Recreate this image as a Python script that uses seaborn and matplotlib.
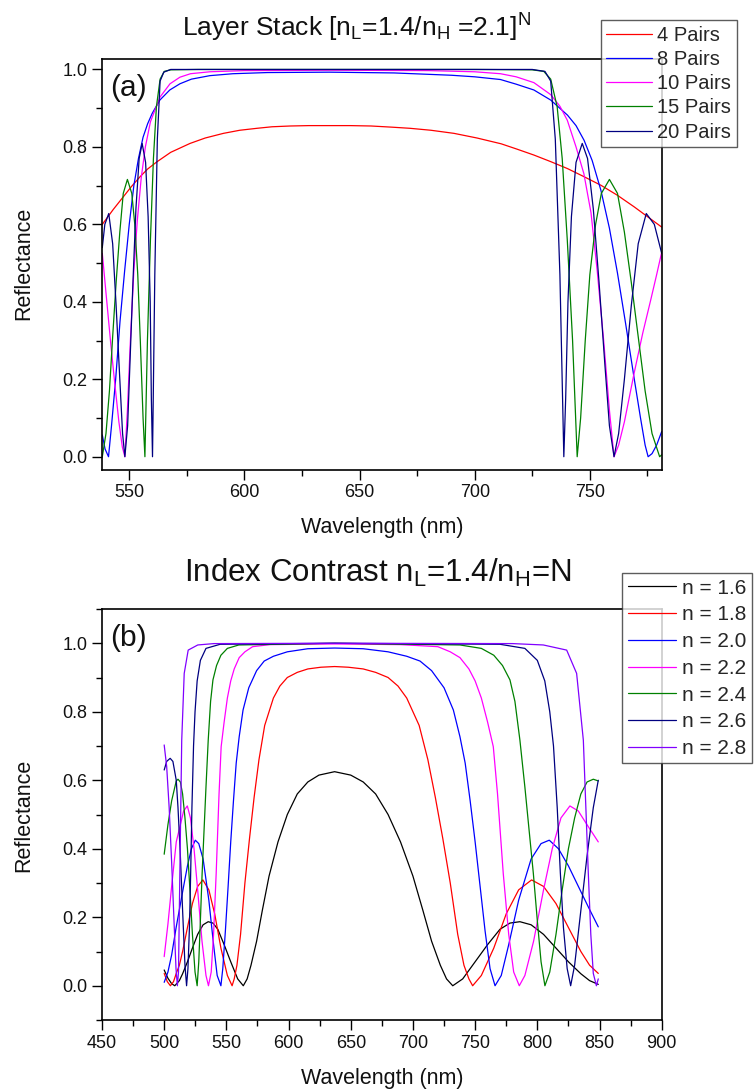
import matplotlib
matplotlib.use("Agg")
import matplotlib.pyplot as plt
import seaborn as sns
from matplotlib import font_manager as fm
from matplotlib.ticker import MultipleLocator, FormatStrFormatter

# ---------------- data : panel (a) layer stack ----------------
wl_a4 = [538.3, 543, 547.4, 551, 554.7, 558, 561.9, 568, 576.4, 583, 590.9, 598, 605.4, 612, 619.9, 628, 637, 646, 655, 664, 672, 681, 691, 701, 711.5, 718, 725.7, 733, 740.3, 747.5, 754.8, 762, 769.3, 775, 781.2]
r_a4 = [0.600, 0.638, 0.671, 0.698, 0.723, 0.743, 0.761, 0.786, 0.809, 0.823, 0.835, 0.843, 0.848, 0.852, 0.854, 0.855, 0.855, 0.855, 0.854, 0.851, 0.848, 0.843, 0.835, 0.823, 0.808, 0.795, 0.779, 0.762, 0.744, 0.723, 0.701, 0.675, 0.645, 0.620, 0.593]

wl_a8 = [538.3, 539.5, 541.0, 542.3, 544.1, 546, 548, 550, 552, 554, 556, 558, 560, 563.3, 567.6, 572, 577, 585, 595, 610, 637, 665, 690, 700, 711.2, 718, 725.7, 733, 740.3, 744, 747.5, 751, 754.8, 758.5, 762, 765.5, 769.3, 772, 774, 775.3, 777, 779, 781.2]
r_a8 = [0.056, 0.02, 0.0, 0.08, 0.20, 0.35, 0.48, 0.60, 0.70, 0.77, 0.825, 0.86, 0.887, 0.921, 0.947, 0.963, 0.975, 0.984, 0.989, 0.992, 0.993, 0.991, 0.985, 0.981, 0.974, 0.962, 0.947, 0.921, 0.882, 0.855, 0.817, 0.765, 0.688, 0.59, 0.474, 0.345, 0.20, 0.10, 0.03, 0.0, 0.008, 0.03, 0.065]

wl_a10 = [538.3, 540.2, 542, 543.7, 545.5, 547, 548.1, 549.2, 550.5, 552, 553.5, 555.2, 557, 559.2, 563.4, 567.7, 572, 576.6, 585, 600, 637, 680, 700, 711.2, 718, 725.7, 733, 737, 740.2, 744, 747.4, 750.5, 753.2, 756, 758.5, 760.5, 762.5, 765, 769.2, 773, 776.4, 779, 781.2]
r_a10 = [0.525, 0.404, 0.29, 0.19, 0.09, 0.025, 0.0, 0.12, 0.30, 0.48, 0.61, 0.72, 0.80, 0.865, 0.929, 0.963, 0.980, 0.989, 0.994, 0.997, 0.998, 0.997, 0.994, 0.989, 0.981, 0.966, 0.935, 0.905, 0.869, 0.80, 0.731, 0.63, 0.48, 0.30, 0.12, 0.0, 0.03, 0.09, 0.215, 0.32, 0.404, 0.47, 0.528]

wl_a15 = [538.3, 539.9, 541.4, 542.8, 544.3, 545.9, 547.4, 549.2, 551.1, 552.4, 553.7, 554.8, 556.0, 556.8, 557.9, 559.2, 560.5, 561.8, 563.4, 565.2, 568, 580, 637, 700, 725, 730, 733, 735.8, 738, 740.2, 742.5, 744.5, 746, 748, 750, 752.5, 755, 758.5, 762, 765, 768, 771, 774, 777, 780.3, 781.2]
r_a15 = [0.0, 0.06, 0.17, 0.31, 0.45, 0.58, 0.68, 0.716, 0.68, 0.60, 0.47, 0.30, 0.10, 0.0, 0.30, 0.56, 0.77, 0.904, 0.975, 0.995, 0.999, 1.0, 1.0, 1.0, 0.999, 0.995, 0.975, 0.904, 0.77, 0.56, 0.30, 0.0, 0.10, 0.30, 0.47, 0.60, 0.68, 0.716, 0.68, 0.58, 0.45, 0.31, 0.17, 0.06, 0.0, 0.005]

wl_a20 = [538.3, 539.4, 541.1, 542.8, 544.3, 545.9, 547.1, 548.1, 549.3, 550.3, 551.6, 552.9, 554.3, 555.6, 557.1, 558.2, 559.1, 559.6, 560.1, 561.1, 562.2, 563.4, 565, 568, 580, 637, 700, 725, 730.5, 733, 735, 737, 738.7, 739.5, 740.5, 742, 744, 746.7, 749, 751.5, 754, 756.5, 758.5, 760.5, 762.5, 765, 768, 771, 774.5, 778, 781.2]
r_a20 = [0.54, 0.60, 0.628, 0.55, 0.39, 0.20, 0.06, 0.0, 0.08, 0.24, 0.45, 0.64, 0.77, 0.809, 0.76, 0.62, 0.40, 0.15, 0.0, 0.47, 0.82, 0.97, 0.993, 1.0, 1.0, 1.0, 1.0, 1.0, 0.995, 0.97, 0.82, 0.47, 0.0, 0.15, 0.40, 0.62, 0.76, 0.809, 0.77, 0.64, 0.45, 0.24, 0.08, 0.0, 0.06, 0.20, 0.39, 0.55, 0.628, 0.60, 0.525]

labels_a = ["4 Pairs", "8 Pairs", "10 Pairs", "15 Pairs", "20 Pairs"]
colors_a = ["#FF0000", "#0000FF", "#FF00FF", "#008000", "#000080"]

# ---------------- data : panel (b) index contrast ----------------
wl_b16 = [500, 503, 506, 508.5, 512.2, 514.8, 518.7, 522.7, 526.9, 531.3, 535.4, 539.2, 543.1, 548.2, 553.5, 559.1, 563.6, 566.7, 569.8, 574.3, 578.9, 584.3, 591.5, 599, 607, 615.5, 624.4, 637, 650, 660, 670, 680, 690, 700, 708, 715, 722, 727, 732, 740, 750, 760, 770, 778, 786, 795, 805, 815, 825, 835, 842, 849]
r_b16 = [0.046, 0.022, 0.006, 0.0, 0.015, 0.035, 0.07, 0.11, 0.15, 0.178, 0.187, 0.183, 0.165, 0.12, 0.07, 0.02, 0.0, 0.02, 0.06, 0.13, 0.22, 0.32, 0.42, 0.50, 0.56, 0.595, 0.615, 0.625, 0.615, 0.595, 0.56, 0.50, 0.42, 0.32, 0.22, 0.13, 0.06, 0.02, 0.0, 0.02, 0.07, 0.12, 0.165, 0.183, 0.187, 0.178, 0.15, 0.11, 0.07, 0.035, 0.015, 0.004]

wl_b18 = [500, 502.5, 505, 507.5, 509.7, 512.2, 514.8, 518.7, 522.7, 526.9, 531.1, 535.9, 540.6, 545.6, 550.8, 554.6, 556.3, 558.5, 561.4, 564.9, 568.6, 572.3, 576.2, 580.8, 587.8, 593, 599, 607, 615.5, 626, 637, 648, 660, 670, 680, 688, 695, 705, 712, 718, 724, 730, 736, 741, 745, 748, 755, 765, 775, 785, 795.4, 805, 815, 825, 835, 842, 849]
r_b18 = [0.036, 0.012, 0.0, 0.012, 0.036, 0.06, 0.10, 0.17, 0.24, 0.29, 0.309, 0.28, 0.21, 0.11, 0.03, 0.0, 0.02, 0.06, 0.15, 0.30, 0.43, 0.55, 0.66, 0.76, 0.84, 0.875, 0.90, 0.915, 0.925, 0.930, 0.932, 0.930, 0.925, 0.915, 0.90, 0.875, 0.84, 0.76, 0.66, 0.55, 0.43, 0.30, 0.15, 0.06, 0.02, 0.0, 0.03, 0.11, 0.21, 0.28, 0.309, 0.29, 0.24, 0.17, 0.10, 0.06, 0.036]

wl_b20 = [500, 503, 506, 509.7, 512.6, 515.6, 518.7, 521.9, 525.0, 527.8, 531.3, 535.9, 539.7, 542.6, 545.6, 547.1, 549.2, 551.4, 553.5, 555.7, 557.9, 560.3, 563.4, 568, 574.3, 580.4, 587.8, 599, 615.5, 637, 660, 680, 695, 705.7, 715, 725, 732.5, 737.8, 742, 746, 750, 754, 758, 762, 766, 771, 777, 785, 795, 803, 809.6, 817, 825, 833, 841, 849]
r_b20 = [0.01, 0.04, 0.09, 0.172, 0.23, 0.29, 0.35, 0.40, 0.425, 0.415, 0.37, 0.25, 0.12, 0.03, 0.0, 0.05, 0.16, 0.29, 0.42, 0.54, 0.65, 0.727, 0.805, 0.87, 0.92, 0.948, 0.962, 0.975, 0.984, 0.986, 0.984, 0.975, 0.962, 0.948, 0.92, 0.87, 0.805, 0.727, 0.65, 0.54, 0.42, 0.29, 0.16, 0.05, 0.0, 0.03, 0.12, 0.25, 0.37, 0.415, 0.425, 0.40, 0.35, 0.29, 0.23, 0.172]

wl_b22 = [500, 503, 506, 509.7, 513.0, 515.6, 518.6, 521.1, 524.0, 526.9, 530.4, 533.6, 535.6, 537.8, 539.7, 541.8, 544.1, 545.8, 548.2, 550.8, 553.5, 556.3, 560.3, 564.9, 571.1, 585, 637, 690, 720, 730, 737.8, 745, 750, 755, 760, 764.6, 768, 772.6, 777, 781, 785.5, 790, 797, 805, 812, 819, 826.2, 833, 840, 849]
r_b22 = [0.085, 0.18, 0.29, 0.42, 0.47, 0.51, 0.525, 0.49, 0.40, 0.28, 0.13, 0.03, 0.0, 0.04, 0.15, 0.328, 0.56, 0.698, 0.77, 0.84, 0.89, 0.925, 0.958, 0.975, 0.99, 0.996, 0.998, 0.996, 0.99, 0.975, 0.958, 0.925, 0.89, 0.84, 0.77, 0.698, 0.56, 0.328, 0.15, 0.04, 0.0, 0.03, 0.13, 0.28, 0.40, 0.49, 0.525, 0.51, 0.47, 0.42]

wl_b24 = [500, 503, 506, 509.7, 511.1, 513.0, 514.8, 516.7, 518.7, 520.7, 522.7, 524.8, 526.5, 527.8, 529.1, 530.5, 532.0, 533.6, 535.4, 537.3, 539.2, 542.1, 545.6, 550.8, 560, 637, 737.8, 755, 765, 772, 778, 782, 786, 790, 793.5, 796.8, 800, 803, 806.1, 810, 815, 820, 825, 830, 835, 840, 845, 849]
r_b24 = [0.384, 0.47, 0.54, 0.598, 0.603, 0.595, 0.56, 0.49, 0.40, 0.28, 0.15, 0.04, 0.0, 0.07, 0.19, 0.328, 0.45, 0.58, 0.717, 0.83, 0.893, 0.935, 0.965, 0.985, 0.995, 1.0, 0.995, 0.985, 0.965, 0.935, 0.893, 0.83, 0.717, 0.58, 0.45, 0.328, 0.19, 0.07, 0.0, 0.04, 0.15, 0.28, 0.40, 0.49, 0.56, 0.595, 0.603, 0.598]

wl_b26 = [500, 502, 504.8, 507, 509.7, 511.1, 513, 514.8, 516.7, 518, 519.1, 520.3, 521.3, 522.3, 523.6, 524.8, 526.5, 529.1, 533.6, 545, 637, 770, 790, 800, 806, 810, 813, 816, 818.5, 821, 824, 826.8, 830, 835, 840, 845, 849]
r_b26 = [0.63, 0.655, 0.664, 0.655, 0.60, 0.52, 0.38, 0.22, 0.06, 0.0, 0.05, 0.17, 0.33, 0.52, 0.70, 0.80, 0.89, 0.95, 0.985, 0.997, 1.0, 0.997, 0.985, 0.95, 0.89, 0.80, 0.70, 0.52, 0.33, 0.17, 0.05, 0.0, 0.06, 0.22, 0.38, 0.52, 0.60]

wl_b28 = [500, 502, 504, 506, 508, 509.5, 510.6, 511.5, 512.6, 514.1, 516.1, 519.3, 527, 540, 637, 780, 804.8, 823.6, 831.6, 837, 841, 843, 845, 847.5, 849]
r_b28 = [0.703, 0.64, 0.52, 0.36, 0.18, 0.05, 0.0, 0.04, 0.33, 0.717, 0.912, 0.98, 0.995, 0.999, 1.0, 0.999, 0.995, 0.98, 0.912, 0.717, 0.328, 0.15, 0.036, 0.0, 0.02]

labels_b = ["n = 1.6", "n = 1.8", "n = 2.0", "n = 2.2", "n = 2.4", "n = 2.6", "n = 2.8"]
colors_b = ["#000000", "#FF0000", "#0000FF", "#FF00FF", "#008000", "#000080", "#8000FF"]

# ---------------- styling ----------------
sns.set_theme(style="white")
plt.rcParams["font.family"] = ["Liberation Sans", "DejaVu Sans"]
plt.rcParams["mathtext.fontset"] = "custom"
plt.rcParams["mathtext.rm"] = "Liberation Sans"
plt.rcParams["mathtext.default"] = "regular"

# look for a narrow Arial-like face for the first title
narrow_prop = None
for f in fm.fontManager.ttflist:
    low = f.fname.lower()
    if "liberation" in low and "narrow" in low and "bold" not in low and "italic" not in low:
        narrow_prop = f.name
        break

W, H = 754, 1089
fig = plt.figure(figsize=(W / 100, H / 100), dpi=100)

def box(l, t, r, b):
    return [l / W, 1 - b / H, (r - l) / W, (b - t) / H]

ax1 = fig.add_axes(box(102.3, 59, 661.7, 469.5))
ax2 = fig.add_axes(box(102.0, 609, 661.7, 1020))

series_a = [(wl_a4, r_a4), (wl_a8, r_a8), (wl_a10, r_a10), (wl_a15, r_a15), (wl_a20, r_a20)]
series_b = [(wl_b16, r_b16), (wl_b18, r_b18), (wl_b20, r_b20), (wl_b22, r_b22),
            (wl_b24, r_b24), (wl_b26, r_b26), (wl_b28, r_b28)]

for (xs, ys), lab, c in zip(series_a, labels_a, colors_a):
    sns.lineplot(x=xs, y=ys, ax=ax1, color=c, linewidth=0.9, label=lab,
                 sort=False, estimator=None)
for (xs, ys), lab, c in zip(series_b, labels_b, colors_b):
    sns.lineplot(x=xs, y=ys, ax=ax2, color=c, linewidth=0.9, label=lab,
                 sort=False, estimator=None)

for ax in (ax1, ax2):
    if ax.get_legend() is not None:
        ax.get_legend().remove()
    ax.set_xlabel("")
    ax.set_ylabel("")
    for s in ax.spines.values():
        s.set_visible(True)
        s.set_color("black")
        s.set_linewidth(1.2)
    ax.tick_params(axis="both", which="major", direction="out", length=7, width=1.0,
                   color="black", labelsize=13, labelcolor="#111111",
                   bottom=True, left=True, top=False, right=False, pad=3.5)
    ax.tick_params(axis="both", which="minor", direction="out", length=4, width=1.0,
                   color="black", bottom=True, left=True, top=False, right=False)
    ax.xaxis.set_major_locator(MultipleLocator(50))
    ax.xaxis.set_minor_locator(MultipleLocator(25))
    ax.yaxis.set_major_locator(MultipleLocator(0.2))
    ax.yaxis.set_minor_locator(MultipleLocator(0.1))
    ax.yaxis.set_major_formatter(FormatStrFormatter("%.1f"))
    ax.set_facecolor("white")

ax1.set_xlim(538.3, 781.2)
ax1.set_ylim(-0.033, 1.027)
ax2.set_xlim(450, 900)
ax2.set_ylim(-0.1, 1.1)

# titles / labels
title_a = r"Layer Stack [n$_{L}$=1.4/n$_{H}$ =2.1]$^{N}$"
if narrow_prop:
    fig.text(356 / W, 1 - 37 / H, title_a, ha="center", va="baseline",
             fontsize=22, family=narrow_prop, color="#111111")
else:
    fig.text(356 / W, 1 - 37 / H, title_a, ha="center", va="baseline",
             fontsize=19, color="#111111")
fig.text(378 / W, 1 - 582 / H, r"Index Contrast n$_{L}$=1.4/n$_{H}$=N",
         ha="center", va="baseline", fontsize=22.5, color="#111111")
fig.text(110 / W, 1 - 96 / H, "(a)", ha="left", va="baseline", fontsize=21.5, color="#111111")
fig.text(110 / W, 1 - 646 / H, "(b)", ha="left", va="baseline", fontsize=21.5, color="#111111")

for yc in (263, 815):
    fig.text(24 / W, 1 - yc / H, "Reflectance", rotation=90, ha="center", va="center",
             fontsize=15.5, color="#111111")
for yb in (533, 1084):
    fig.text(382 / W, 1 - yb / H, "Wavelength (nm)", ha="center", va="baseline",
             fontsize=15.5, color="#111111")

# legends
h1, l1 = ax1.get_legend_handles_labels()
leg1 = fig.legend(h1, l1, loc="upper left", bbox_to_anchor=(600.7 / W, 1 - 20 / H),
                  bbox_transform=fig.transFigure, frameon=True, fancybox=False,
                  fontsize=14.5, handlelength=2.28, handletextpad=0.25, labelspacing=0.26,
                  borderpad=0.28, borderaxespad=0)
leg1.get_frame().set_edgecolor("#333333")
leg1.get_frame().set_linewidth(1.0)

h2, l2 = ax2.get_legend_handles_labels()
leg2 = fig.legend(h2, l2, loc="upper left", bbox_to_anchor=(622.3 / W, 1 - 573.3 / H),
                  bbox_transform=fig.transFigure, frameon=True, fancybox=False,
                  fontsize=15, handlelength=2.3, handletextpad=0.32, labelspacing=0.37,
                  borderpad=0.26, borderaxespad=0)
leg2.get_frame().set_edgecolor("#333333")
leg2.get_frame().set_linewidth(1.0)

fig.savefig("out.png", dpi=100, facecolor="white")
